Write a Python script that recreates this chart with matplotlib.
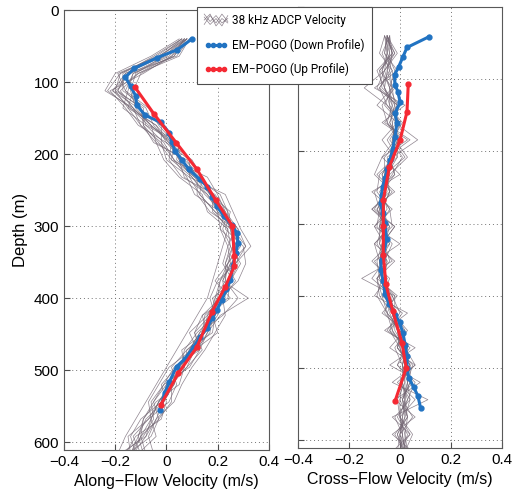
import matplotlib
matplotlib.use("Agg")
import matplotlib.pyplot as plt
from matplotlib.lines import Line2D
from matplotlib.legend_handler import HandlerBase
import numpy as np

plt.rcParams['font.family'] = ['Liberation Sans', 'DejaVu Sans']

# ---------------- data ----------------
adcp_depth = [40, 64, 88, 112, 136, 160, 184, 208, 232, 256, 280, 304, 328,
              352, 376, 400, 424, 448, 472, 496, 520, 544, 568, 592, 616]

# ADCP along-flow profiles (cm/s)
adcp_along = [
    [8, 3, -10, -13, -15, -10, -4, 7, 14, 13, 19, 28, 31, 27, 20, 17, 19, 18, 8, 2, 4, 1, -7, -13, -10],
    [6, -4, -18, -23, -14, -4, 2, 1, 6, 19, 24, 22, 25, 29, 25, 24, 14, 11, 13, 9, -1, -5, -3, -6, -15],
    [9, 5, -11, -20, -9, -9, -5, 8, 12, 12, 17, 27, 24, 22, 26, 18, 20, 15, 6, 7, 5, -4, -9, -10, -8],
    [7, -3, -19, -16, -7, -3, 3, 2, 16, 20, 23, 21, 28, 24, 19, 25, 16, 9, 12, 4, -2, 0, -2, -12, -16],
    [10, 2, -9, -22, -16, -11, 0, 9, 9, 23, 26, 29, 33, 27, 24, 22, 23, 19, 15, 10, 6, 3, -4, -7, -5],
    [5, -6, -20, -24, -13, -6, -4, -1, 5, 14, 16, 24, 22, 20, 18, 16, 12, 8, 4, 0, -4, -8, -12, -16, -19],
    [8, 1, -13, -15, -17, -8, 4, 6, 13, 17, 25, 23, 30, 31, 28, 21, 18, 20, 11, 8, 1, -3, -6, -4, -11],
    [6, -2, -16, -21, -11, -2, -2, 3, 8, 11, 21, 27, 26, 23, 23, 28, 22, 13, 9, 5, 3, -1, -8, -11, -14],
    [7, -1, -12, -14, -12, -6, 1, 10, 14, 18, 18, 25, 27, 28, 25, 21, 14, 16, 13, 3, -1, -6, -5, -9, -17],
    [9, 4, -15, -19, -10, -9, -3, 2, 10, 15, 22, 26, 29, 24, 21, 19, 19, 12, 7, 6, 0, -2, -10, -14, -12],
    [6, -5, -17, -17, -8, -5, 1, 5, 7, 16, 20, 21, 24, 25, 22, 23, 15, 14, 10, 1, -3, -7, -6, -8, -18],
    [8, 0, -14, -21, -14, -7, 5, 4, 11, 21, 24, 26, 28, 26, 24, 21, 17, 11, 14, 8, 2, 2, -3, -10, -13],
    [7, 2, -11, -18, -13, -10, -2, 0, 9, 13, 19, 24, 25, 23, 27, 22, 18, 17, 11, 5, 3, -3, -7, -15, -14],
    [8, -3, -18, -20, -15, -4, 0, 6, 12, 18, 23, 28, 27, 26, 21, 20, 16, 15, 8, 7, 0, -5, -9, -11, -9],
    [7, 3, -13, -16, -10, -8, -1, 3, 11, 17, 20, 26, 31, 25, 22, 32, 21, 16, 12, 4, 1, -1, -4, -8, -13],
    [8, -1, -16, -19, -13, -6, 2, 5, 10, 16, 22, 25, 26, 24, 23, 19, 17, 13, 9, 5, 2, -3, -6, -10, -14],
]

# ADCP cross-flow profiles (cm/s)
adcp_cross = [
    [-5, -3, -9, -6, -4, 0, -5, -1, -8, -9, -4, -3, -10, -8, -5, -6, -2, 2, -1, 5, 3, 4, -2, 1, 2],
    [-6, -8, -3, -2, -7, -5, 1, -4, -2, -10, -8, -9, -3, -6, -11, -3, 0, -5, 4, -1, 5, 0, 3, -2, 2],
    [-5, -1, -6, -14, -5, 1, -3, 2, -6, -4, -11, -2, -7, -9, -8, -4, -6, 0, 2, 6, -1, 6, 0, 4, -1],
    [-4, -5, -2, -4, -1, -6, 4, -5, -4, -7, -5, -10, -6, -4, -9, -8, -3, 3, -2, 1, 4, 1, 5, 0, 3],
    [-5, -3, -8, -7, 0, -3, -2, -7, -10, -3, -9, -6, -8, -3, -15, -2, -5, -3, 2, -1, 6, 3, -1, 3, 1],
    [-4, -7, -4, -3, -6, 0, -4, 1, -3, -8, -4, -8, -4, -11, -4, -7, 1, -4, 0, 3, 0, 4, 2, -1, 2],
    [-5, -2, -6, -9, -1, -2, 7, -3, -7, -6, -10, -2, -7, -8, -7, -3, -4, -1, 3, 1, 2, -1, 0, 5, 2],
    [-6, -5, -7, -4, -3, -5, -1, -1, -5, -4, -7, -7, -9, -5, -6, -6, -1, -3, 1, 4, 3, 1, 2, 0, -1],
    [-5, -6, -3, -8, -5, 0, -2, -4, -2, -7, -6, -8, -4, -8, -7, -9, -5, 0, -1, 4, 1, 2, 3, 2, 2],
    [-4, -3, -5, -3, -2, -4, 0, -6, -6, -5, -9, -4, -6, -7, -8, -2, -2, -4, 3, 1, 1, 0, 0, 2, 3],
    [-6, -2, -8, -3, -9, -1, -7, -2, -9, -2, -11, -4, -10, -2, -9, -1, -7, 2, -4, 6, -3, 11, -3, 4, -3],
    [-5, -6, -1, -10, 2, -7, 3, -7, 0, -11, -3, -10, 0, -10, -5, -10, 3, -6, 6, -4, 8, -2, 6, -3, 5],
    [-4, -4, -7, -6, -2, -1, -3, -2, -5, -7, -6, -5, -6, -8, -6, -4, -2, -1, 0, 2, 1, 3, 1, 0, 1],
    [-5, -3, -4, -8, -1, -4, -1, -3, -7, -4, -7, -8, -8, -5, -9, -7, -5, 1, -1, 4, 4, 1, 3, -1, 1],
    [-5, -5, -6, -4, -4, -3, -2, 3, -4, -6, -8, -6, -5, -7, -7, -6, -3, -1, 1, 2, 2, 2, 1, 1, 0],
    [-6, -4, -5, -6, -3, -1, -3, -3, -5, -7, -6, -6, -6, -8, -7, -5, -2, -2, 2, 1, 3, 2, 0, 1, 2],
]

# EM-POGO down profile, along-flow (depth m, velocity m/s)
down_along_depth = [40, 55, 66, 81, 93, 106, 119, 132, 146, 156, 170, 183, 195, 208, 221,
                    235, 245, 259, 272, 286, 299, 310, 324, 338, 354, 375, 388, 402, 417,
                    428, 442, 454, 468, 484, 495, 516, 532, 556]
down_along_vel = [0.10, 0.043, -0.035, -0.125, -0.16, -0.14, -0.12, -0.116, -0.083, -0.022,
                  0.01, 0.021, 0.033, 0.06, 0.087, 0.13, 0.16, 0.18, 0.197, 0.224, 0.257,
                  0.276, 0.28, 0.27, 0.26, 0.25, 0.234, 0.217, 0.197, 0.178, 0.158, 0.132,
                  0.106, 0.073, 0.04, 0.012, -0.007, -0.025]

# EM-POGO up profile, along-flow
up_along_depth = [107, 145, 184, 221, 264, 300, 342, 356, 384, 419, 468, 504, 548]
up_along_vel = [-0.123, -0.047, 0.038, 0.119, 0.193, 0.258, 0.265, 0.265, 0.23, 0.178,
                0.119, 0.047, -0.022]

# EM-POGO down profile, cross-flow
down_cross_depth = [41, 56, 69, 83, 94, 108, 117, 132, 147, 161, 180, 196, 212, 225, 237,
                    249, 260, 272, 285, 299, 322, 343, 350, 364, 380, 398, 412, 426, 437,
                    452, 468, 484, 500, 514, 527, 539, 555]
down_cross_vel = [0.115, 0.028, 0.012, -0.005, -0.021, -0.019, -0.008, 0.001, -0.019, -0.012,
                  -0.019, -0.028, -0.039, -0.049, -0.059, -0.068, -0.072, -0.076, -0.068,
                  -0.059, -0.052, -0.065, -0.072, -0.076, -0.065, -0.059, -0.041, -0.019,
                  -0.001, 0.012, 0.021, 0.028, 0.028, 0.035, 0.055, 0.071, 0.081]

# EM-POGO up profile, cross-flow
up_cross_depth = [106, 145, 184, 221, 267, 304, 343, 384, 421, 465, 500, 546]
up_cross_vel = [0.033, 0.028, 0.001, -0.041, -0.065, -0.065, -0.065, -0.055, -0.028,
                0.008, 0.025, -0.019]

xticks = [-0.4, -0.2, 0, 0.2, 0.4]
yticks = [0, 100, 200, 300, 400, 500, 600]
legend_labels = ["38 kHz ADCP Velocity", "EM\u2212POGO (Down Profile)", "EM\u2212POGO (Up Profile)"]

# ---------------- styling ----------------
gray = (0.45, 0.40, 0.45)
blue = (0.13, 0.45, 0.76)
red = (0.96, 0.16, 0.2)

fig = plt.figure(figsize=(5.12, 5.04), dpi=100)
ax1 = fig.add_axes([0.125, 0.107, 0.400, 0.873])
ax2 = fig.add_axes([0.582, 0.111, 0.398, 0.875])


def fmt(v):
    if abs(v) < 1e-9:
        return "0"
    return ("%.1f" % v).replace("-", "\u2212")


def draw(ax, adcp, dd, dv, ud, uv, xlabel, ylab):
    for prof in adcp:
        ax.plot(np.array(prof) / 100.0, adcp_depth, color=gray, lw=0.5, alpha=0.8, zorder=2)
    ax.plot(dv, dd, color=blue, lw=2.2, marker='o', ms=3.5, zorder=4)
    ax.plot(uv, ud, color=red, lw=2.2, marker='o', ms=3.5, zorder=5)
    ax.set_xlim(-0.4, 0.4)
    ax.set_ylim(611, 0)
    ax.set_xticks(xticks)
    ax.set_xticklabels([fmt(v) for v in xticks])
    ax.set_yticks(yticks)
    if ylab:
        ax.set_yticklabels([str(v) for v in yticks])
        ax.set_ylabel("Depth (m)", fontsize=12, labelpad=4)
    else:
        ax.set_yticklabels([])
    ax.grid(True, linestyle=(0, (1, 3)), color='0.45', lw=0.7)
    ax.tick_params(direction='in', length=4, labelsize=11, color='0.3')
    ax.set_xlabel(xlabel, fontsize=11.5, labelpad=4)
    for s in ax.spines.values():
        s.set_color('0.35')
        s.set_linewidth(0.8)


draw(ax1, adcp_along, down_along_depth, down_along_vel, up_along_depth, up_along_vel,
     "Along\u2212Flow Velocity (m/s)", True)
draw(ax2, adcp_cross, down_cross_depth, down_cross_vel, up_cross_depth, up_cross_vel,
     "Cross\u2212Flow Velocity (m/s)", False)


class ZigzagHandler(HandlerBase):
    # a few crossing thin lines, like the ADCP legend swatch
    offs = [[0.2, 0.8, 0.3, 0.9, 0.4], [0.7, 0.2, 0.6, 0.1, 0.8],
            [0.5, 0.9, 0.1, 0.6, 0.3], [0.9, 0.4, 0.8, 0.3, 0.6]]

    def create_artists(self, legend, orig_handle, xdescent, ydescent, width, height,
                       fontsize, trans):
        arts = []
        n = len(self.offs[0])
        xs = [-xdescent + width * i / (n - 1) for i in range(n)]
        for o in self.offs:
            ys = [-ydescent - 0.4 * height + 1.8 * height * v for v in o]
            arts.append(Line2D(xs, ys, color=gray, lw=0.5, alpha=0.8, transform=trans))
        return arts


gray_handle = Line2D([], [], color=gray, lw=0.5)
handles = [
    gray_handle,
    Line2D([], [], color=blue, lw=2.2, marker='o', ms=3),
    Line2D([], [], color=red, lw=2.2, marker='o', ms=3),
]
leg = fig.legend(handles, legend_labels, loc='upper left', bbox_to_anchor=(0.385, 0.986),
                 prop={'family': ['Roboto', 'Liberation Sans'], 'size': 8.5}, numpoints=4,
                 handlelength=2.0, handletextpad=0.35, borderaxespad=0.0,
                 borderpad=0.6, labelspacing=0.95, fancybox=False, framealpha=1,
                 edgecolor='0.3', handler_map={gray_handle: ZigzagHandler()})
leg.get_frame().set_linewidth(0.8)
leg.set_zorder(10)

fig.savefig("out.png", dpi=100)
